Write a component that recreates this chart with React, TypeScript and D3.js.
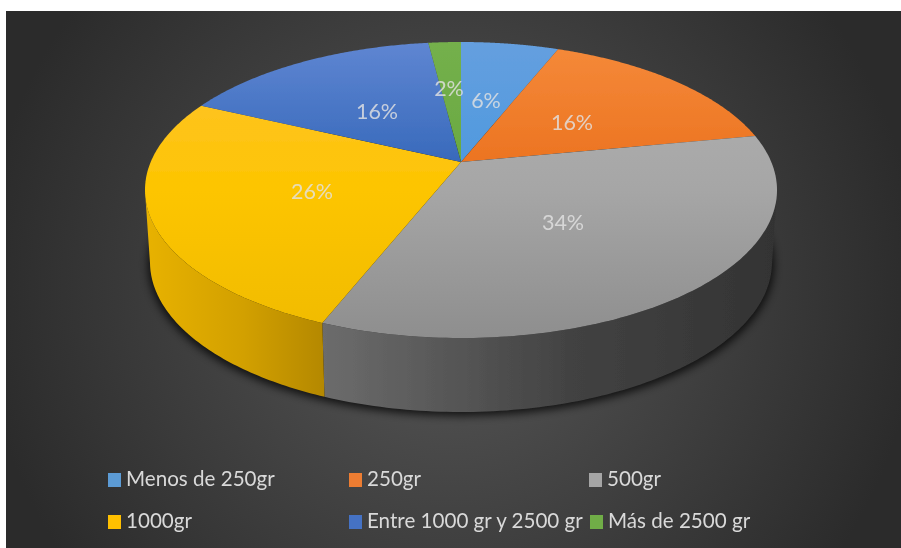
import React from "react";
import * as d3 from "d3";

const categories = ["Menos de 250gr", "250gr", "500gr", "1000gr", "Entre 1000 gr y 2500 gr", "Más de 2500 gr"];
const values = [6, 16, 34, 26, 16, 2];
const labels = ["6%", "16%", "34%", "26%", "16%", "2%"];
const topLight = ["#659fdf", "#f58a3a", "#b2b2b2", "#ffc235", "#5f86d2", "#74b04c"];
const topMid = ["#4a98de", "#ea6f1c", "#a6a6a6", "#fdc500", "#2f63b6", "#68a83f"];
const topDark = ["#4a98de", "#ea6f1c", "#8e8e8e", "#f0bb00", "#2f63b6", "#68a83f"];
const wallLeft = ["#3f7fb8", "#b05a1a", "#6c6c6c", "#e8b200", "#2c5aa0", "#5a8f38"];
const wallMid = ["#3f7fb8", "#b05a1a", "#424242", "#d2a000", "#2c5aa0", "#5a8f38"];
const wallRight = ["#3f7fb8", "#b05a1a", "#333333", "#b48800", "#2c5aa0", "#5a8f38"];
const legendSwatch = ["#5b9bd5", "#ed7d31", "#a5a5a5", "#ffc000", "#4472c4", "#70ad47"];
const legendX = [108, 349, 589, 108, 349, 590];
const legendY = [480, 480, 480, 522, 522, 522];
const labelPos = [[486, 103], [572, 125], [563, 225], [312, 194], [377, 114], [449, 91]];

const W = 901, H = 548;
const cx = 461, cy = 190, rx = 316, ry = 148;
const bx = 461, by = 262, brx = 311, bry = 150;
const a = 0.19;

// perspective of the pie's disc: unit circle to ellipse, centre moved to the apex
function project(theta: number, r = 1): [number, number] {
  const u = r * Math.sin(theta), v = -r * Math.cos(theta);
  const d = 1 - a * v;
  return [u * Math.sqrt(1 - a * a) / d, (v - a) / d];
}
const top = (t: number): [number, number] => {
  const [x, y] = project(t);
  return [cx + rx * x, cy + ry * y];
};
const bottom = (t: number): [number, number] => {
  const [x, y] = project(t);
  return [bx + brx * x, by + bry * y];
};
const apex: [number, number] = [cx, cy - ry * a];
const line = d3.line();
const pie = d3.pie<number>().sort(null)(values);
const samples = (s: number, e: number) => d3.range(0, 121).map((i) => s + ((e - s) * i) / 120);

function slicePath(s: number, e: number) {
  return line([apex, ...samples(s, e).map(top)]) + "Z";
}
// front wall only: part of the arc where the projected direction is in the lower half
function wallPath(s: number, e: number) {
  const pts = samples(s, e);
  const vis = pts.filter((t) => project(t)[1] >= -0.0);
  if (vis.length < 2) return null;
  return line([...vis.map(top), ...vis.slice().reverse().map(bottom)]) + "Z";
}

export default function App() {
  return (
    <svg width={W} height={H} style={{ position: "fixed", left: 0, top: 0, background: "#fff" }}>
      <defs>
        <radialGradient id="bg" gradientUnits="userSpaceOnUse" cx={450} cy={290} r={470}>
          <stop offset="0" stopColor="#585858" />
          <stop offset="1" stopColor="#2b2b2b" />
        </radialGradient>
        <filter id="sh" x="-10%" y="-10%" width="120%" height="120%"><feGaussianBlur stdDeviation="4" /></filter>
        <filter id="soft" x="-5%" y="-5%" width="110%" height="110%"><feGaussianBlur stdDeviation="0.55" /></filter>
        {categories.map((_, i) => (
          <React.Fragment key={i}>
            <linearGradient id={`t${i}`} gradientUnits="userSpaceOnUse" x1="0" y1={cy - ry} x2="0" y2={cy + ry}>
              <stop offset="0" stopColor={topLight[i]} />
              <stop offset={0.5} stopColor={topMid[i]} />
              <stop offset="1" stopColor={topDark[i]} />
            </linearGradient>
            <linearGradient id={`w${i}`} gradientUnits="objectBoundingBox" x1="0" y1="0" x2="1" y2="0">
              <stop offset="0" stopColor={wallLeft[i]} />
              <stop offset="0.55" stopColor={wallMid[i]} />
              <stop offset="1" stopColor={wallRight[i]} />
            </linearGradient>
          </React.Fragment>
        ))}
      </defs>
      <rect x={6} y={11} width={W - 6} height={H - 11} fill="url(#bg)" />
      <ellipse cx={bx} cy={by + 3} rx={brx + 2} ry={bry + 1} fill="#000" opacity={0.75} filter="url(#sh)" />
      <g filter="url(#soft)">
        {pie.map((d, i) => {
          const w = wallPath(d.startAngle, d.endAngle);
          return w ? <path key={i} d={w} fill={`url(#w${i})`} /> : null;
        })}
        {pie.map((d, i) => (
          <path key={i} d={slicePath(d.startAngle, d.endAngle)} fill={`url(#t${i})`} />
        ))}
        {labels.map((l, i) => (
          <text key={i} x={labelPos[i][0]} y={labelPos[i][1]} textAnchor="middle" dominantBaseline="middle"
            fontFamily="Lato" fontSize={21.5} fill="#e2e2e2" fillOpacity={0.82}>{l}</text>
        ))}
        {categories.map((c, i) => (
          <g key={c}>
            <rect x={legendX[i]} y={legendY[i] - 7} width={13} height={14} fill={legendSwatch[i]} />
            <text x={legendX[i] + 18} y={legendY[i] + 1} dominantBaseline="middle" fontFamily="Lato" fontSize={20.6}
              fill="#d9d9d9">{c}</text>
          </g>
        ))}
      </g>
    </svg>
  );
}
